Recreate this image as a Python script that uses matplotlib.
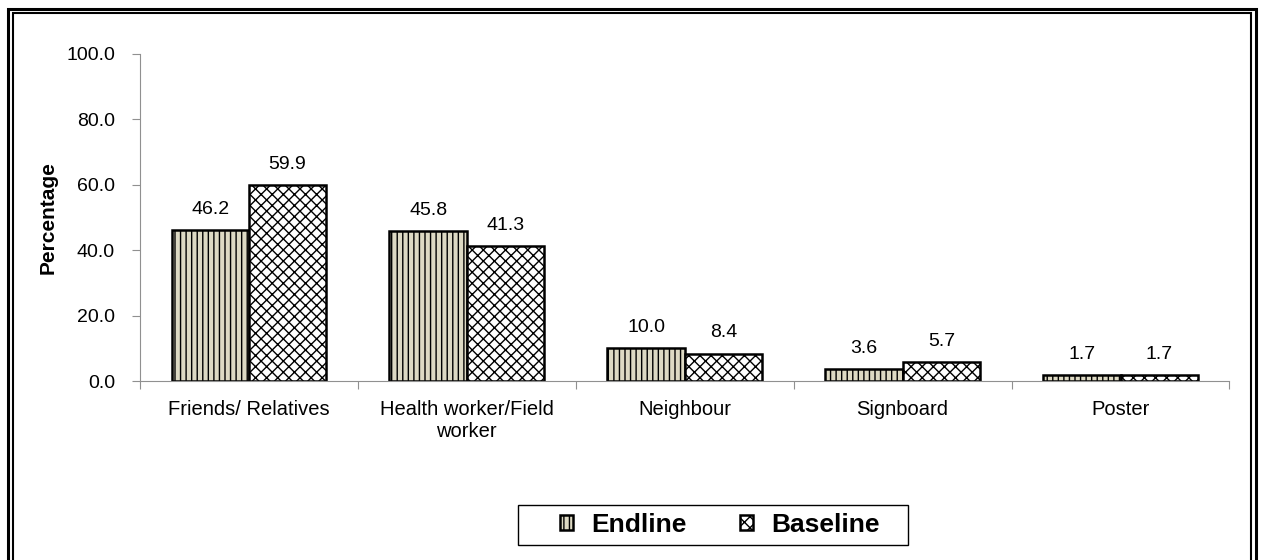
import matplotlib
matplotlib.use('Agg')
import matplotlib.pyplot as plt
from matplotlib.patches import Rectangle
import numpy as np

categories = ['Friends/ Relatives', 'Health worker/Field\nworker', 'Neighbour', 'Signboard', 'Poster']
endline = [46.2, 45.8, 10.0, 3.6, 1.7]
baseline = [59.9, 41.3, 8.4, 5.7, 1.7]
yticks = [0, 20, 40, 60, 80, 100]

plt.rcParams['font.family'] = ['Liberation Sans', 'DejaVu Sans']
plt.rcParams['hatch.linewidth'] = 1.0

W, H = 1261, 560
fig = plt.figure(figsize=(W / 100, H / 100), dpi=100)
ax = fig.add_axes([0.111, 0.3196, 0.864, 0.584])

x = np.arange(len(categories))
w = 0.355
b1 = ax.bar(x - w / 2, endline, w, color='#DDD9C3', edgecolor='black', linewidth=1.8,
            hatch='|||', label='Endline')
b2 = ax.bar(x + w / 2, baseline, w, color='white', edgecolor='black', linewidth=1.8,
            hatch='xxx', label='Baseline')

for bars, vals in ((b1, endline), (b2, baseline)):
    for r, v in zip(bars, vals):
        ax.text(r.get_x() + r.get_width() / 2, v + 3.8, '%.1f' % v,
                ha='center', va='bottom', fontsize=14)

ax.set_xlim(-0.5, len(categories) - 0.5)
ax.set_ylim(0, 100)
ax.set_yticks(yticks)
ax.set_yticklabels(['%.1f' % t for t in yticks], fontsize=14)
ax.set_xticks(np.arange(-0.5, len(categories), 1.0))
ax.set_xticklabels([])
ax.set_xticks(x, minor=True)
ax.set_xticklabels(categories, minor=True, fontsize=14.5)
ax.tick_params(axis='x', which='minor', length=0, pad=14)
ax.tick_params(axis='x', which='major', length=6, color='#909090', direction='out')
ax.tick_params(axis='y', length=6, color='#909090', pad=12)
ax.set_ylabel('Percentage', fontsize=15, fontweight='bold', labelpad=6)

for s in ['top', 'right']:
    ax.spines[s].set_visible(False)
ax.spines['left'].set_color('#909090')
ax.spines['bottom'].set_color('#909090')

leg = fig.legend(loc='center', bbox_to_anchor=(720 / W, 1 - 525 / H), ncol=2,
                 prop={'weight': 'bold', 'size': 19}, frameon=False,
                 handlelength=0.5, handleheight=0.5,
                 handletextpad=0.7, columnspacing=2.0, borderpad=0.2,
                 borderaxespad=0)
# legend box
fig.patches.append(Rectangle((518 / W, 1 - 545 / H), 390 / W, 40 / H,
                             transform=fig.transFigure, fill=False,
                             edgecolor='black', linewidth=1.0))

# double border round the figure (runs past the bottom edge)
fig.patches.append(Rectangle((7.5 / W, -0.05), (1256 - 7.5) / W, 1.05 - 8.5 / H,
                             transform=fig.transFigure, fill=False,
                             edgecolor='black', linewidth=2.2))
fig.patches.append(Rectangle((12.5 / W, -0.05), (1251 - 12.5) / W, 1.05 - 13 / H,
                             transform=fig.transFigure, fill=False,
                             edgecolor='black', linewidth=1.5))

plt.savefig('out.png', dpi=100)
